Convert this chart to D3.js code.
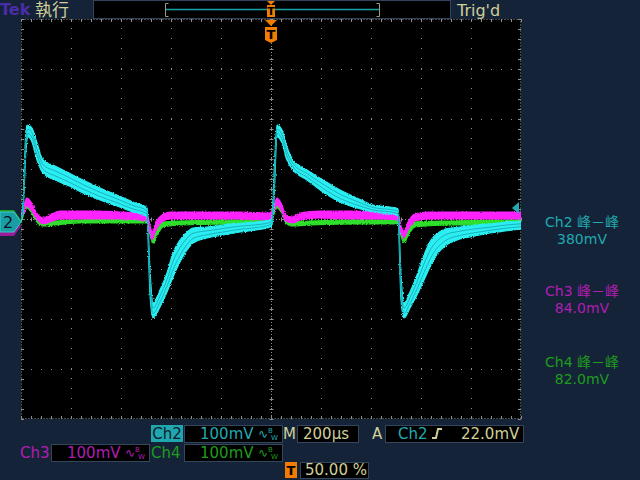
<!DOCTYPE html>
<html><head><meta charset="utf-8">
<script src="https://cdn.jsdelivr.net/npm/d3@7"></script>
<style>html,body{margin:0;padding:0;background:#152338;overflow:hidden}</style>
</head><body><div id="c"></div>
<script>
// ---- data (time in µs, values in mV) ----
const ch2Time = [-1000,-992,-980,-972,-956,-936,-912,-864,-816,-752,-684,-616,-552,-500,-496,-484,-472,-444,-416,-392,-364,-336,-312,-256,-192,-124,-60,-4,4,12,24,44,64,88,144,208,276,344,408,500,508,520,532,556,584,612,640,668,696,756,816,876,936,1000];
const ch2Upper = [4,28,178,188,182,152,118,106,94,78,62,48,34,24,22,-102,-168,-142,-108,-68,-42,-26,-18,-16,-12,-8,-6,-2,2,88,188,178,144,118,98,78,58,42,28,22,20,-112,-168,-146,-112,-72,-42,-28,-20,-16,-12,-10,-6,-4];
const ch2Lower = [-4,14,138,164,154,118,92,78,68,52,38,26,14,6,4,-152,-198,-176,-146,-116,-86,-62,-48,-38,-32,-26,-22,-16,-12,38,164,152,118,98,78,54,34,22,14,8,6,-162,-198,-178,-152,-122,-92,-68,-54,-40,-34,-28,-24,-20];

const ch3Time = [-1000,-988,-976,-960,-940,-912,-884,-844,-764,-684,-604,-524,-496,-484,-476,-460,-436,-404,-284,-124,-4,8,24,40,60,84,116,196,316,436,508,520,532,548,576,636,796,1000];
const ch3Upper = [6,28,42,34,14,2,8,16,16,16,14,12,10,-12,-26,-6,8,14,14,14,12,22,42,32,8,4,12,16,16,14,12,-14,-24,-6,10,14,14,14];
const ch3Lower = [-2,14,26,18,2,-10,-6,0,0,0,0,-2,-4,-26,-42,-22,-6,0,0,0,-2,10,28,18,-4,-8,-2,2,0,0,-2,-26,-38,-22,-4,0,0,0];

const ch4Time = [-1000,-988,-976,-960,-940,-912,-864,-764,-604,-496,-484,-472,-456,-432,-364,-124,-4,8,24,40,60,84,156,356,508,520,532,548,576,716,1000];
const ch4Upper = [2,22,34,26,8,-6,-4,-2,0,0,-18,-34,-18,-6,-4,-2,-2,14,32,24,2,-6,-4,-2,-2,-20,-34,-18,-6,-4,-2];
const ch4Lower = [-6,10,22,14,-4,-14,-12,-8,-8,-8,-32,-48,-34,-16,-12,-10,-10,4,22,14,-8,-14,-12,-10,-10,-34,-48,-34,-16,-12,-10];

const timeTicks = [-1000,-800,-600,-400,-200,0,200,400,600,800,1000];
const voltTicks = [-400,-300,-200,-100,0,100,200,300,400];
const triggerLevel = 22.0;
const measurements = [
  {ch:"Ch2 峰－峰", val:"380mV", color:"#20a9b0"},
  {ch:"Ch3 峰－峰", val:"84.0mV", color:"#b01db3"},
  {ch:"Ch4 峰－峰", val:"82.0mV", color:"#1e9c1e"}
];

// ---- layout ----
const W=640,H=480,X0=21,X1=521,Y0=19,Y1=419;
const BG="#152338", KHAKI="#cfcf98", TEAL="#22aab0", ORANGE="#f27d00";
const FONT="'DejaVu Sans','Noto Sans CJK TC',sans-serif";
const x=d3.scaleLinear().domain([-1000,1000]).range([X0,X1]);
const y=d3.scaleLinear().domain([-400,400]).range([Y1,Y0]);

const svg=d3.select('#c').append('svg').attr('width',W).attr('height',H)
  .style('font-family',FONT);
const defs=svg.append('defs');
// ragged persistence edges (deterministic turbulence)
const flt=defs.append('filter').attr('id','rough').attr('x','-5%').attr('y','-5%').attr('width','110%').attr('height','110%');
flt.append('feTurbulence').attr('type','fractalNoise').attr('baseFrequency','0.9').attr('numOctaves',1).attr('seed',3).attr('result','n');
flt.append('feDisplacementMap').attr('in','SourceGraphic').attr('in2','n').attr('scale',3).attr('xChannelSelector','R').attr('yChannelSelector','G');

svg.append('rect').attr('width',W).attr('height',H).attr('fill',BG);
svg.append('rect').attr('x',X0).attr('y',Y0).attr('width',X1-X0).attr('height',Y1-Y0).attr('fill','#000');

const GRID="#8e8e8e";
const gx=svg.append('g').attr('transform',`translate(0,${Y1})`)
  .call(d3.axisBottom(x).tickValues(timeTicks.slice(1,-1)).tickSize(-(Y1-Y0)).tickFormat(''));
gx.select('.domain').remove();
gx.selectAll('line').attr('stroke',GRID).attr('stroke-dasharray','1 9');
const gy=svg.append('g').attr('transform',`translate(${X0},0)`)
  .call(d3.axisLeft(y).tickValues(voltTicks.slice(1,-1)).tickSize(-(X1-X0)).tickFormat(''));
gy.select('.domain').remove();
gy.selectAll('line').attr('stroke',GRID).attr('stroke-dasharray','1 9');

const cx=Math.round(x(0))+0.5, cy=Math.round(y(0))+0.5;
svg.append('line').attr('x1',cx).attr('x2',cx).attr('y1',Y0).attr('y2',Y1).attr('stroke',GRID).attr('stroke-dasharray','1 2');
svg.append('line').attr('x1',X0).attr('x2',X1).attr('y1',cy).attr('y2',cy).attr('stroke',GRID).attr('stroke-dasharray','1 2');
const minorT=d3.range(-1000,1001,40), minorV=d3.range(-400,401,20);
const tk=svg.append('g').attr('stroke',GRID);
minorT.forEach(t=>{const px=Math.round(x(t))+0.5;
  tk.append('line').attr('x1',px).attr('x2',px).attr('y1',cy-2).attr('y2',cy+2);
  tk.append('line').attr('x1',px).attr('x2',px).attr('y1',Y0).attr('y2',Y0+3);
  tk.append('line').attr('x1',px).attr('x2',px).attr('y1',Y1-3).attr('y2',Y1);});
minorV.forEach(v=>{const py=Math.round(y(v))+0.5;
  tk.append('line').attr('x1',cx-2).attr('x2',cx+2).attr('y1',py).attr('y2',py);
  tk.append('line').attr('x1',X0).attr('x2',X0+3).attr('y1',py).attr('y2',py);
  tk.append('line').attr('x1',X1-3).attr('x2',X1).attr('y1',py).attr('y2',py);});
svg.append('rect').attr('x',X0+0.5).attr('y',Y0+0.5).attr('width',X1-X0-1).attr('height',Y1-Y0-1)
  .attr('fill','none').attr('stroke',GRID).attr('stroke-dasharray','1 2');

// ---- traces ----
defs.append('clipPath').attr('id','clip').append('rect').attr('x',X0).attr('y',Y0).attr('width',X1-X0).attr('height',Y1-Y0);
const traces=svg.append('g').attr('clip-path','url(#clip)');
const band=(T,U,L)=>T.map((t,i)=>({t,u:U[i],l:L[i]}));
const area=d3.area().x(d=>x(d.t)).y0(d=>y(d.l)).y1(d=>y(d.u)).curve(d3.curveMonotoneX);
function drawBand(data,fill){
  traces.append('g').attr('filter','url(#rough)').append('path').datum(data).attr('d',area)
    .attr('fill',fill).attr('stroke',fill).attr('stroke-width',1.2).attr('stroke-linejoin','round');
}
const d4=band(ch4Time,ch4Upper,ch4Lower), d3b=band(ch3Time,ch3Upper,ch3Lower), d2=band(ch2Time,ch2Upper,ch2Lower);
drawBand(d4,'#2ee02a');
drawBand(d3b,'#ff22ff');
drawBand(d2,'#2aeef2');
[0.3,0.65].forEach(f=>{
  traces.append('path').datum(d2)
    .attr('d',d3.line().x(d=>x(d.t)).y(d=>y(d.l+f*(d.u-d.l))).curve(d3.curveMonotoneX))
    .attr('fill','none').attr('stroke','#129aa4').attr('stroke-width',1).attr('opacity',0.7);
});

// ---- channel markers (left) ----
const mk=(cyv,fill)=>svg.append('path')
  .attr('d',`M0,${cyv-10} L14,${cyv-10} L21,${cyv} L14,${cyv+10} L0,${cyv+10} Z`).attr('fill',fill);
mk(y(0)+1,'#1e9c1e');
mk(y(0)+7,'#9a1a9a');
mk(y(0)+3,'#1a9ea6').attr('stroke','#3cc8cc').attr('stroke-width',1);
svg.append('text').attr('x',8).attr('y',y(0)+9).attr('font-size',16).attr('text-anchor','middle').attr('fill','#0a1420').text('2');

// trigger level arrow (right)
const ty=y(triggerLevel);
svg.append('path').attr('d',`M${X1-9},${ty} L${X1-2},${ty-6} L${X1-2},${ty+6} Z`).attr('fill',TEAL);

// ---- top bar ----
svg.append('text').attr('x',0).attr('y',15).attr('font-size',16).attr('font-weight','bold').attr('fill','#4c2ca8').text('Tek');
svg.append('text').attr('x',35).attr('y',16).attr('font-size',17).attr('fill',KHAKI).text('執行');
svg.append('rect').attr('x',93.5).attr('y',0.5).attr('width',357).attr('height',18).attr('fill','#000').attr('stroke','#33435a');
svg.append('line').attr('x1',165).attr('x2',380).attr('y1',9.5).attr('y2',9.5).attr('stroke','#1aa4a8').attr('stroke-width',1.5);
[[165.5,1],[379.5,-1]].forEach(([bx,dir])=>{
  svg.append('path').attr('d',`M${bx+3*dir},3.5 L${bx},3.5 L${bx},16.5 L${bx+3*dir},16.5`).attr('fill','none').attr('stroke','#9c9c86');
});
const tx=x(0);
svg.append('path').attr('d',`M${tx-4},1 L${tx+4},1 L${tx},5 Z`).attr('fill',ORANGE);
svg.append('rect').attr('x',tx-4).attr('y',5).attr('width',8).attr('height',12).attr('fill',ORANGE);
svg.append('text').attr('x',tx).attr('y',15).attr('font-size',11).attr('font-weight','bold').attr('text-anchor','middle').attr('fill','#000').text('T');
svg.append('text').attr('x',457).attr('y',16).attr('font-size',16).attr('fill',KHAKI).text("Trig'd");

svg.append('path').attr('d',`M${tx-6},20 L${tx+6},20 L${tx},26 Z`).attr('fill',ORANGE);
svg.append('path').attr('d',`M${tx-6},27 L${tx+6},27 L${tx+6},40 L${tx},43 L${tx-6},40 Z`).attr('fill',ORANGE);
svg.append('text').attr('x',tx).attr('y',39).attr('font-size',13).attr('font-weight','bold').attr('text-anchor','middle').attr('fill','#000').text('T');

// ---- measurements (right) ----
measurements.forEach((m,i)=>{
  const by=[227,296,367][i];
  svg.append('text').attr('x',582).attr('y',by).attr('font-size',14).attr('text-anchor','middle').attr('fill',m.color).text(m.ch);
  svg.append('text').attr('x',582).attr('y',by+17).attr('font-size',14).attr('text-anchor','middle').attr('fill',m.color).text(m.val);
});

// ---- bottom bar ----
const box=(bx,by,w,h)=>svg.append('rect').attr('x',bx+0.5).attr('y',by+0.5).attr('width',w).attr('height',h).attr('fill','#000').attr('stroke','#34465c');
const txt=(s,tx_,ty_,col,size=15,anchor='start')=>svg.append('text').attr('x',tx_).attr('y',ty_).attr('font-size',size).attr('fill',col).attr('text-anchor',anchor).text(s);
const bw=(bx,by,col)=>{
  txt('∿',bx,by-1,col,12);
  txt('B',bx+10,by-6,col,7);
  txt('W',bx+13,by+1,col,7);
};
svg.append('rect').attr('x',151).attr('y',425).attr('width',32).attr('height',17).attr('fill','#1fa6ae');
txt('Ch2',167,439,'#0d1b2e',15,'middle');
box(184,425,98,17); txt('100mV',200,439,TEAL); bw(258,439,TEAL);
txt('M',283,439,KHAKI);
box(297,425,61,17); txt('200µs',303,439,KHAKI);
txt('A',372,439,KHAKI);
box(385,425,138,17); txt('Ch2',398,439,TEAL);
svg.append('path').attr('d','M432,438 L436,438 L438,429 L442,429').attr('fill','none').attr('stroke',KHAKI).attr('stroke-width',2);
txt('22.0mV',461,439,KHAKI);
txt('Ch3',20,458,'#b01db3');
box(51,444,98,17); txt('100mV',67,458,'#b01db3'); bw(125,458,'#b01db3');
txt('Ch4',151,458,'#1e9c1e');
box(184,444,98,17); txt('100mV',200,458,'#1e9c1e'); bw(258,458,'#1e9c1e');
svg.append('rect').attr('x',285).attr('y',462).attr('width',12).attr('height',16).attr('fill',ORANGE);
txt('T',291,475,'#000',13,'middle').attr('font-weight','bold');
box(300,462,68,16); txt('50.00 %',305,475,KHAKI);
</script></body></html>
